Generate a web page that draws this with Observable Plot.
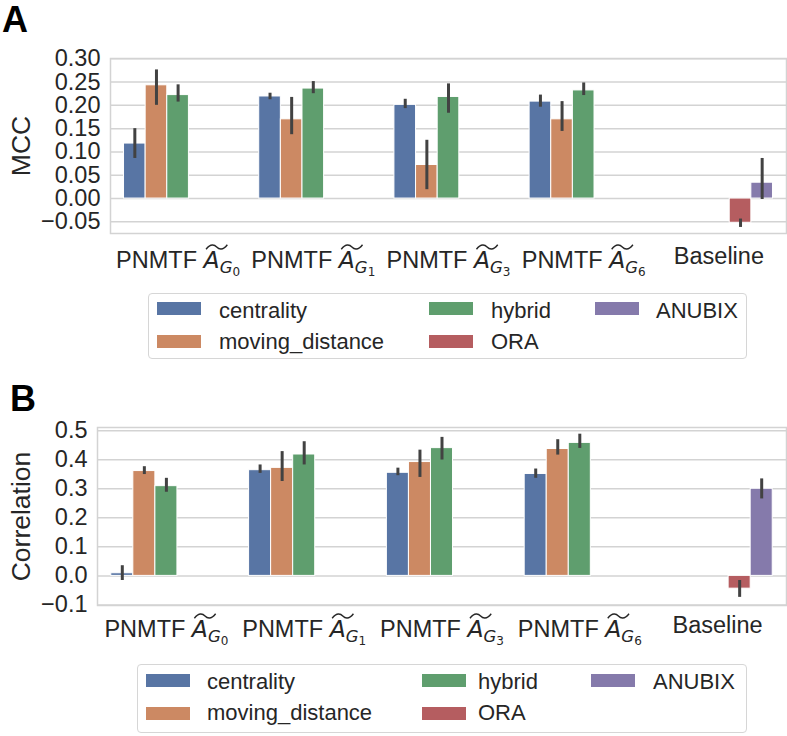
<!DOCTYPE html>
<html><head><meta charset="utf-8">
<script src="https://cdn.jsdelivr.net/npm/d3@7"></script>
<script src="https://cdn.jsdelivr.net/npm/@observablehq/plot@0.6"></script>
<style>
body{margin:0;background:#fff;}
#root{position:relative;width:787px;height:736px;font-family:"Liberation Sans",Arial,Helvetica,sans-serif;color:#262626;overflow:hidden;background:#fff;}
.panel-label{position:absolute;font-weight:bold;font-size:36px;line-height:1;color:#000;z-index:5;}
.plot{position:absolute;left:0;z-index:1;}
.legend{position:absolute;border:1.5px solid #d6d6d6;border-radius:4px;box-sizing:border-box;z-index:2;}
.sw{position:absolute;width:44px;height:13px;z-index:3;}
.lt{position:absolute;font-size:22px;line-height:1;white-space:nowrap;color:#262626;z-index:3;}
</style></head><body><div id="root"></div>
<script>
// ---------- data ----------
const groups = ["PNMTF G0", "PNMTF G1", "PNMTF G3", "PNMTF G6", "Baseline"];
const groupSubs = ["0", "1", "3", "6", ""];
const methods = ["centrality", "moving_distance", "hybrid", "ORA", "ANUBIX"];
const methodColors = ["#5875A4", "#CC8963", "#5F9E6E", "#B55D60", "#857AAB"];

// Panel A: MCC (rows = methods, columns = groups)
const mccMean = [
  [0.118, 0.219, 0.201, 0.208, null],
  [0.243, 0.170, 0.072, 0.170, null],
  [0.222, 0.236, 0.218, 0.232, null],
  [null, null, null, null, -0.052],
  [null, null, null, null, 0.034]
];
const mccLow = [
  [0.086, 0.212, 0.193, 0.196, null],
  [0.200, 0.137, 0.019, 0.144, null],
  [0.207, 0.225, 0.183, 0.221, null],
  [null, null, null, null, -0.062],
  [null, null, null, null, -0.002]
];
const mccHigh = [
  [0.150, 0.226, 0.213, 0.222, null],
  [0.276, 0.217, 0.125, 0.208, null],
  [0.244, 0.251, 0.246, 0.248, null],
  [null, null, null, null, -0.044],
  [null, null, null, null, 0.086]
];
const mccTicks = [-0.05, 0, 0.05, 0.10, 0.15, 0.20, 0.25, 0.30];

// Panel B: Correlation
const corMean = [
  [0.009, 0.364, 0.355, 0.351, null],
  [0.361, 0.372, 0.392, 0.437, null],
  [0.309, 0.418, 0.440, 0.458, null],
  [null, null, null, null, -0.044],
  [null, null, null, null, 0.300]
];
const corLow = [
  [-0.016, 0.353, 0.345, 0.336, null],
  [0.349, 0.325, 0.339, 0.416, null],
  [0.288, 0.382, 0.399, 0.439, null],
  [null, null, null, null, -0.074],
  [null, null, null, null, 0.265]
];
const corHigh = [
  [0.035, 0.382, 0.371, 0.368, null],
  [0.376, 0.428, 0.433, 0.469, null],
  [0.336, 0.462, 0.477, 0.488, null],
  [null, null, null, null, -0.016],
  [null, null, null, null, 0.334]
];
const corTicks = [-0.1, 0, 0.1, 0.2, 0.3, 0.4, 0.5];

// ---------- drawing ----------
const FONT = '"Liberation Sans", Arial, Helvetica, sans-serif';
const MATHFONT = '"DejaVu Sans", sans-serif';
const TICK = 23.5;
const root = document.getElementById("root");
const NS = "http://www.w3.org/2000/svg";
const groupIdx = d3.range(groups.length);

function panel(o) {
  const rows = [];
  methods.forEach((m, h) => groups.forEach((g, gi) => {
    const v = o.mean[h][gi];
    if (v == null) return;
    rows.push({method: m, gi, h, v, y0: 0, lo: o.low[h][gi], hi: o.high[h][gi]});
  }));
  const bw = 0.8 / methods.length;
  const x1 = d => d.gi - 0.4 + d.h * bw;
  const fmt = d3.format(o.fmt);
  return Plot.plot({
    width: 787,
    height: o.marginTop + o.plotH + o.marginBottom,
    marginLeft: o.marginLeft, marginRight: 1, marginTop: o.marginTop, marginBottom: o.marginBottom,
    x: {domain: [-0.5, groups.length - 0.5], axis: null},
    y: {domain: o.domain, axis: null},
    color: {domain: methods, range: methodColors},
    style: {fontFamily: FONT, fontSize: "22px", color: "#262626", background: "white", overflow: "visible"},
    marks: [
      Plot.ruleY(o.ticks, {stroke: "#d3d3d3", strokeWidth: 1.5}),
      Plot.rect(rows, {x1, x2: d => x1(d) + bw, y1: "y0", y2: "v", fill: "method", stroke: "white", strokeWidth: 1}),
      Plot.ruleX(rows, {x: d => x1(d) + bw / 2, y1: "lo", y2: "hi", stroke: "#424242", strokeWidth: 3}),
      Plot.frame({stroke: "#d3d3d3", strokeWidth: 1.5}),
      Plot.text(o.ticks, {y: d => d, text: d => fmt(d), frameAnchor: "left", textAnchor: "end", dx: -10, fontSize: TICK, fill: "#262626"}),
      Plot.text(groupIdx.filter(i => groupSubs[i]), {x: i => i, text: i => "PNMTF AG" + groupSubs[i], frameAnchor: "bottom", textAnchor: "middle", lineAnchor: "top", dy: o.labelDy, fontSize: TICK, fill: "#262626"}),
      Plot.text(groupIdx.filter(i => !groupSubs[i]), {x: i => i, text: i => groups[i], frameAnchor: "bottom", textAnchor: "middle", lineAnchor: "top", dy: o.labelDy - 4, fontSize: TICK, fill: "#262626"}),
      Plot.text([o.yLabel], {frameAnchor: "left", textAnchor: "middle", lineAnchor: "middle", rotate: -90, dx: o.yLabelDx, fontSize: 26.5, fill: "#262626"})
    ]
  });
}

function mathLabels(svg) {
  svg.querySelectorAll("text").forEach(t => {
    const m = /^PNMTF AG(\d)$/.exec(t.textContent);
    if (!m) return;
    t.textContent = "";
    t.appendChild(document.createTextNode("PNMTF "));
    const a = document.createElementNS(NS, "tspan");
    a.setAttribute("font-style", "italic"); a.setAttribute("font-family", MATHFONT); a.textContent = "A"; t.appendChild(a);
    const g = document.createElementNS(NS, "tspan");
    g.setAttribute("font-style", "italic"); g.setAttribute("font-family", MATHFONT); g.setAttribute("font-size", "16.5"); g.setAttribute("dy", "5"); g.textContent = "G"; t.appendChild(g);
    const n = document.createElementNS(NS, "tspan");
    n.setAttribute("font-family", MATHFONT); n.setAttribute("font-size", "12"); n.setAttribute("dy", "3"); n.textContent = m[1]; t.appendChild(n);
    const ea = t.getExtentOfChar(6), eg = t.getExtentOfChar(7);
    const x0 = ea.x + 2.5, xw = eg.x + eg.width * 0.6;
    const w = xw - x0;
    const capTop = ea.y + ea.height * 0.2;
    const yt = capTop - 6.5, yb = capTop - 2;
    const p = document.createElementNS(NS, "path");
    p.setAttribute("d", `M${x0},${yb} C${x0 + w * 0.22},${yt - 1.5} ${x0 + w * 0.4},${yt} ${x0 + w * 0.5},${(yt + yb) / 2} S${x0 + w * 0.78},${yb + 1.5} ${xw},${yt}`);
    p.setAttribute("fill", "none"); p.setAttribute("stroke", "#262626"); p.setAttribute("stroke-width", "1.4");
    const tr = t.getAttribute("transform");
    if (tr) p.setAttribute("transform", tr);
    t.parentNode.appendChild(p);
  });
}

function place(svg, top) {
  const d = document.createElement("div");
  d.className = "plot"; d.style.top = top + "px";
  d.appendChild(svg); root.appendChild(d);
  mathLabels(svg);
}

function legend(L) {
  const box = document.createElement("div");
  box.className = "legend";
  Object.assign(box.style, {left: L.left + "px", top: L.top + "px", width: L.width + "px", height: L.height + "px"});
  root.appendChild(box);
  methods.forEach((m, i) => {
    const c = Math.floor(i / 2), r = i % 2;
    const sw = document.createElement("div");
    sw.className = "sw";
    Object.assign(sw.style, {left: L.swX[c] + "px", top: L.swY[r] + "px", background: methodColors[i]});
    root.appendChild(sw);
    const t = document.createElement("div");
    t.className = "lt"; t.textContent = m;
    Object.assign(t.style, {left: L.txtX[c] + "px", top: (L.base[r] - 17.8) + "px"});
    root.appendChild(t);
  });
}

function label(txt, left, top) {
  const d = document.createElement("div");
  d.className = "panel-label"; d.textContent = txt;
  d.style.left = left + "px"; d.style.top = top + "px";
  root.appendChild(d);
}

place(panel({mean: mccMean, low: mccLow, high: mccHigh, ticks: mccTicks, fmt: ".2f", domain: [-0.075, 0.3005],
  yLabel: "MCC", yLabelDx: -89, marginLeft: 110, marginTop: 58, plotH: 175, marginBottom: 47, labelDy: 17.5}), 0);
legend({left: 148, top: 293, width: 599, height: 66, swX: [157, 429, 595], txtX: [219, 491, 656], swY: [302, 335], base: [318, 349]});

place(panel({mean: corMean, low: corLow, high: corHigh, ticks: corTicks, fmt: ".1f", domain: [-0.102, 0.511],
  yLabel: "Correlation", yLabelDx: -76, marginLeft: 97, marginTop: 57, plotH: 178, marginBottom: 45, labelDy: 14.5}), 370);
legend({left: 137, top: 664, width: 610, height: 69, swX: [146, 422, 591], txtX: [207, 478, 653], swY: [674, 707], base: [689, 720]});

label("A", 2, 2);
label("B", 10, 381);
</script></body></html>
